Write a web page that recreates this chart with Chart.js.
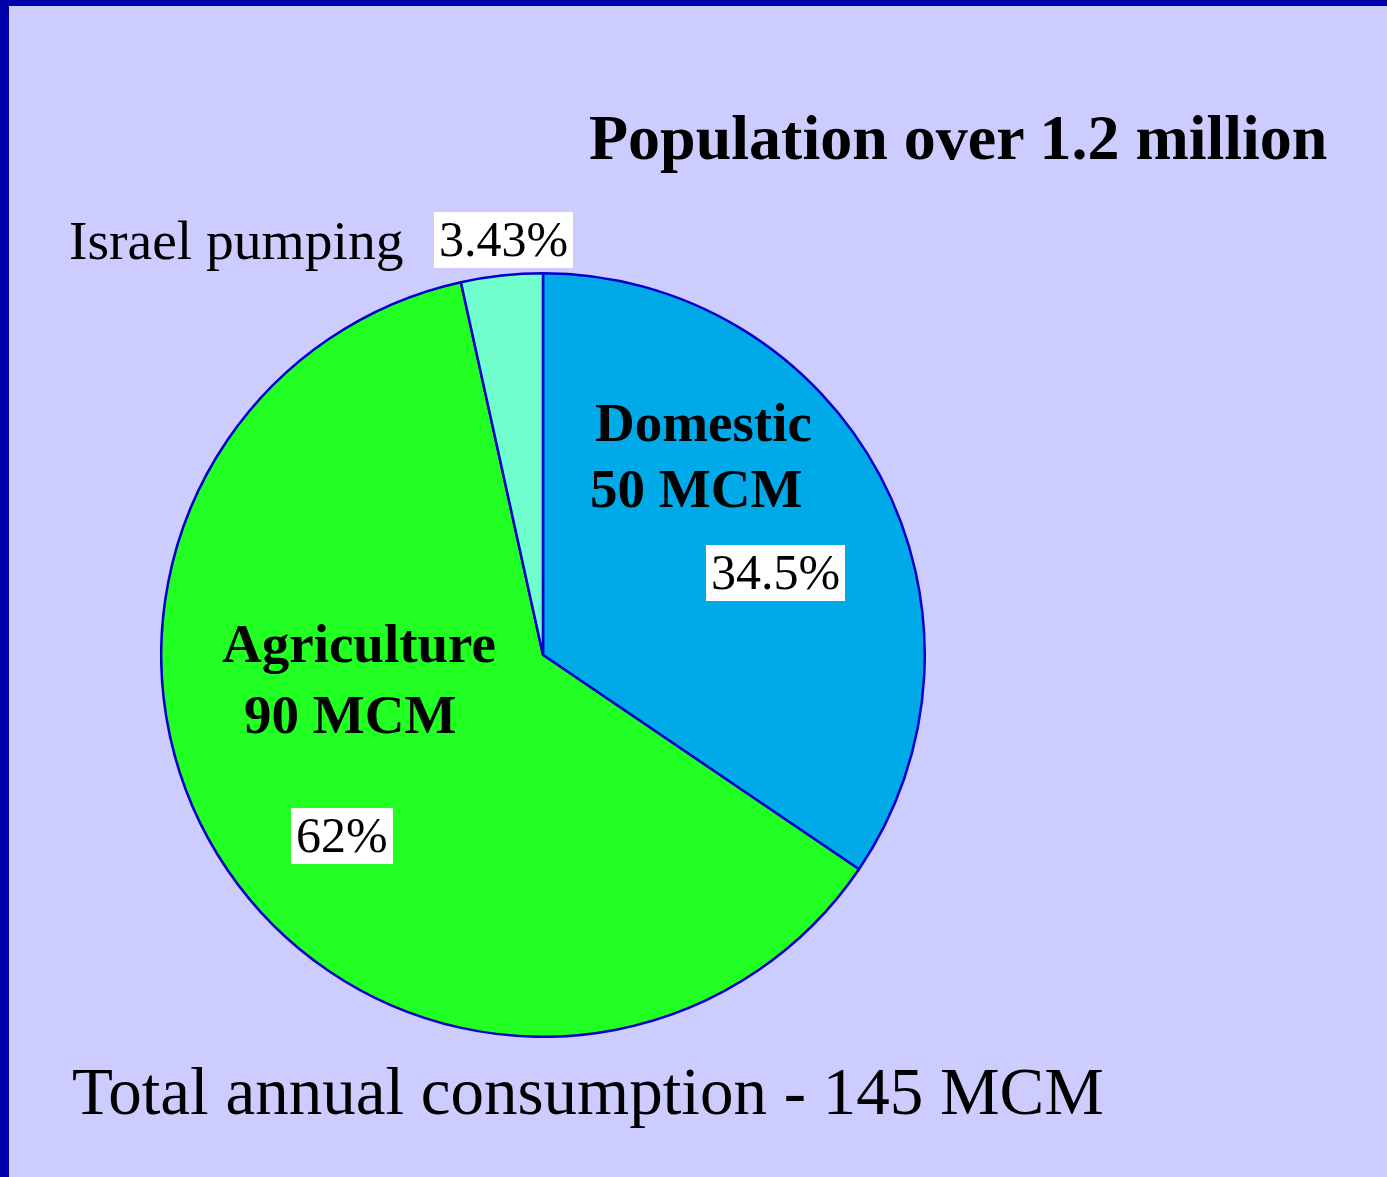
<!DOCTYPE html>
<html>
<head>
<meta charset="utf-8">
<script src="https://cdn.jsdelivr.net/npm/chart.js@4/dist/chart.umd.min.js"></script>
<style>
  html, body { margin: 0; padding: 0; }
  body {
    width: 1387px; height: 1177px; overflow: hidden;
    background: #ccccff;
    font-family: "Liberation Serif", "Times New Roman", serif;
    color: #000;
    position: relative;
  }
  #frameTop { position: absolute; left: 0; top: 0; width: 1387px; height: 6px; background: #0000aa; }
  #frameLeft { position: absolute; left: 0; top: 0; width: 9px; height: 1177px; background: #0000aa; }
  #pieWrap { position: absolute; left: 160px; top: 272px; width: 766px; height: 766px; }
  .txt { position: absolute; white-space: nowrap; line-height: 1; }
  .bold { font-weight: bold; font-size: 55px; }
  .box { background: #fff; padding: 2px 5px 4px 5px; font-size: 50px; }
</style>
</head>
<body>
<div id="frameTop"></div>
<div id="frameLeft"></div>

<div class="txt bold" style="left:589px; top:106px; font-size:64px;">Population over 1.2 million</div>

<div id="pieWrap"><canvas id="pieChart" width="766" height="766"></canvas></div>

<div class="txt" style="left:69px; top:213px; font-size:55.5px;">Israel pumping</div>
<div class="txt box" style="left:434px; top:212px;" id="pct2"></div>

<div class="txt bold" style="left:595px; top:395px;" id="name0"></div>
<div class="txt bold" style="left:590px; top:461px;" id="vol0"></div>
<div class="txt box" style="left:706px; top:545px;" id="pct0"></div>

<div class="txt bold" style="left:222px; top:616px;" id="name1"></div>
<div class="txt bold" style="left:244px; top:687px;" id="vol1"></div>
<div class="txt box" style="left:291px; top:808px;" id="pct1"></div>

<div class="txt" style="left:72px; top:1058px; font-size:67px;">Total annual consumption - 145 MCM</div>

<script>
// water use, million cubic metres
var sectors = ['Domestic', 'Agriculture', 'Israel pumping'];
var volumes = [50, 90, 5];
var pctLabels = ['34.5%', '62%', '3.43%'];
var sliceColors = ['#00aae8', '#22ff22', '#70ffcc'];

window.onload = function(){
    for (var i = 0; i < 2; i++) {
        document.getElementById('name' + i).textContent = sectors[i];
        document.getElementById('vol' + i).textContent = volumes[i] + ' MCM';
    }
    for (var j = 0; j < pctLabels.length; j++) {
        document.getElementById('pct' + j).textContent = pctLabels[j];
    }
    get_pie_chart();
}

function get_pie_chart(){
    var ctx = document.getElementById('pieChart');
    new Chart(ctx, {
        type: 'pie',
        data: {
            labels: sectors,
            datasets: [{
                data: volumes,
                backgroundColor: sliceColors,
                borderColor: '#0000cc',
                borderWidth: 2.5,
                borderAlign: 'center'
            }]
        },
        options: {
            responsive: false,
            animation: false,
            layout: { padding: 0 },
            plugins: {
                legend: { display: false },
                tooltip: { enabled: false }
            }
        }
    });
}
</script>
</body>
</html>
